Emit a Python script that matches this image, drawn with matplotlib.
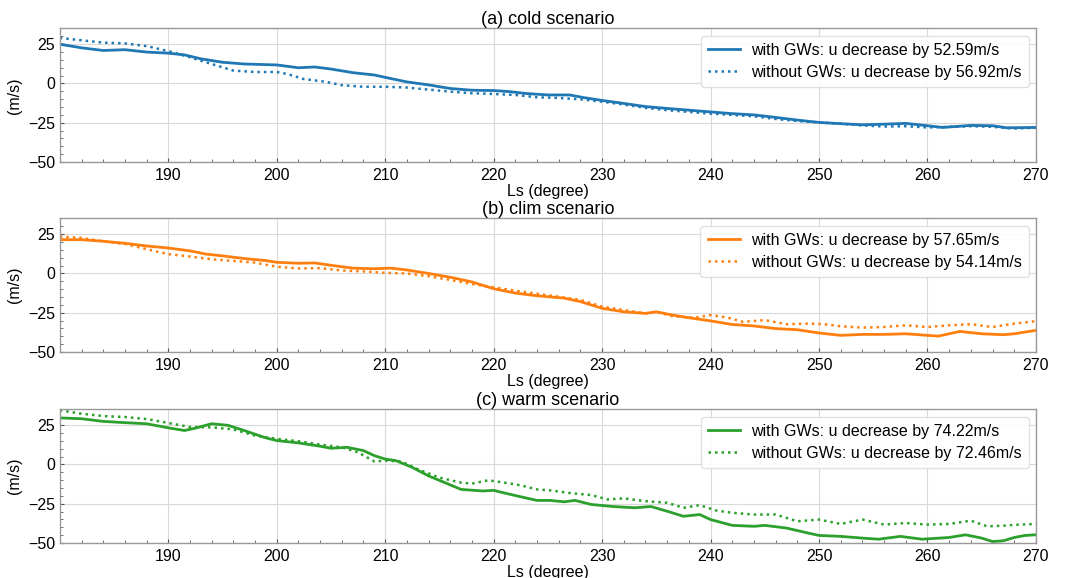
import matplotlib
matplotlib.use("Agg")
import matplotlib.pyplot as plt
from matplotlib.ticker import MultipleLocator

plt.rcParams['font.family'] = ['Liberation Sans', 'DejaVu Sans']

# ---------------- data ----------------
ls_cold_gw = [180, 182, 184, 186, 188, 190, 191.5, 193, 195, 197, 199, 200, 202, 203.5, 205, 207, 209, 210,
              212, 214, 216, 218, 220, 221.5, 223, 225, 227, 228.3, 230, 232, 234, 236, 238, 240, 242, 244,
              246, 248, 250, 252, 254, 256, 258, 260, 261.4, 264, 266, 267.3, 270]
u_cold_gw = [25.0, 22.7, 21.0, 21.5, 20.0, 19.3, 18.2, 15.7, 13.5, 12.4, 12.0, 11.8, 10.0, 10.5, 9.2, 6.9, 5.4, 3.9,
             1.0, -0.9, -3.2, -4.3, -4.5, -5.2, -6.4, -7.3, -7.3, -9.0, -10.8, -12.7, -14.7, -15.9, -17.0, -18.1,
             -19.2, -20.0, -21.6, -23.3, -24.8, -25.6, -26.3, -25.9, -25.4, -26.9, -28.0, -26.7, -26.9, -28.2, -28.0]
ls_cold_nogw = [180, 182, 184, 186, 188, 190, 192, 194, 196, 198, 200, 201, 202.5, 204.5, 206, 208, 210, 212,
                214, 216, 218, 220, 222, 224, 226, 228, 230, 232, 234, 236, 238, 240, 242, 244, 246, 248, 250,
                252, 254, 256, 258, 260, 262, 264, 266, 268, 270]
u_cold_nogw = [29.0, 27.5, 26.0, 25.5, 23.8, 20.6, 16.7, 12.4, 8.2, 7.3, 7.3, 6.0, 2.8, 1.1, -1.1, -2.1, -2.1,
               -2.6, -3.9, -5.2, -6.2, -6.7, -7.3, -8.8, -9.2, -10.1, -11.6, -13.4, -15.5, -17.0, -18.1, -19.2,
               -20.0, -20.9, -22.6, -23.9, -24.8, -25.6, -26.7, -27.4, -27.2, -28.0, -27.6, -27.2, -27.6, -28.7, -28.2]

ls_clim_gw = [180, 182, 184, 186, 188, 190, 192, 193.5, 195, 197, 199, 200, 202, 203.5, 205, 207, 209, 210.5,
              212, 214, 216, 218, 220, 222, 224, 226.5, 228, 230, 232, 234, 235, 236.5, 238, 240, 242, 244,
              246, 248, 250, 252, 254, 256, 258, 260, 261, 263, 265, 267, 268, 270]
u_clim_gw = [21.5, 21.5, 20.5, 19.2, 17.5, 16.2, 14.4, 12.3, 11.2, 9.5, 8.2, 7.1, 6.5, 6.7, 5.2, 3.4, 3.0, 3.4,
             2.2, 0.0, -2.4, -5.4, -9.7, -12.5, -14.2, -15.7, -17.9, -22.2, -24.4, -25.4, -24.4, -26.5, -28.2,
             -30.2, -32.5, -33.4, -35.1, -35.8, -37.9, -39.4, -38.8, -38.8, -38.4, -39.4, -39.9, -36.9, -38.4,
             -39.0, -38.4, -36.2]
ls_clim_nogw = [180, 182, 184, 186, 188, 190, 192, 194, 196, 198, 200, 202, 204, 206, 208, 210, 212, 214, 216,
                218, 220, 222, 224, 226, 228, 230, 232, 234, 235, 236.5, 238.5, 240, 241.5, 243, 245, 247, 249,
                250.5, 252, 254, 256, 258, 260, 262, 264, 266, 268, 270]
u_clim_nogw = [23.5, 22.6, 20.5, 18.8, 15.5, 12.3, 10.8, 9.0, 8.0, 6.9, 4.3, 3.2, 3.4, 1.9, 1.3, 0.4, 0.0, -1.7,
               -4.1, -6.7, -8.8, -11.0, -12.9, -14.8, -16.8, -21.1, -23.3, -25.4, -24.4, -27.2, -28.2, -26.5,
               -28.0, -30.8, -29.7, -32.3, -31.9, -32.3, -33.6, -34.5, -34.1, -33.0, -34.1, -33.0, -32.3, -34.1,
               -31.9, -30.4]

ls_warm_gw = [180, 182, 184, 186, 188, 190, 191.5, 192.5, 194, 195.5, 197, 199, 200, 202, 204, 205, 206.5, 208,
              209, 210, 211, 212.5, 214, 215.5, 217, 219, 220, 221, 222.5, 224, 225.2, 226.5, 227.5, 229, 231,
              233, 234.5, 236, 237.5, 239, 240, 242, 244, 245, 247, 249, 250, 252, 254, 255.5, 257.5, 259.5,
              262, 263.5, 265, 266, 267, 268, 269, 270]
u_warm_gw = [29.6, 29.1, 27.4, 26.6, 25.9, 23.3, 21.6, 23.1, 25.9, 24.9, 21.6, 16.9, 15.2, 13.7, 11.6, 10.3, 10.9,
             8.8, 5.6, 3.4, 2.4, -1.9, -7.3, -11.6, -15.9, -16.9, -16.5, -18.2, -20.6, -22.9, -22.9, -23.8,
             -22.9, -25.5, -26.8, -27.6, -26.8, -29.8, -33.0, -31.9, -35.1, -38.8, -39.4, -38.8, -40.5, -43.7,
             -45.2, -45.8, -46.9, -47.6, -45.8, -47.6, -46.5, -44.8, -46.9, -49.1, -48.6, -46.5, -45.2, -44.8]
ls_warm_nogw = [180, 182, 184, 186, 188, 190, 192, 194, 196, 198, 200, 202, 204, 206, 207.5, 209, 210, 211.5,
                213, 215, 217, 218, 219.5, 221, 222.5, 224, 225.2, 227, 229, 230.5, 232, 234, 236, 237.5, 239,
                240.5, 242, 244, 246, 248, 250, 252, 254, 256, 258, 260, 262, 264, 265.5, 267, 268.5, 270]
u_warm_nogw = [34.5, 32.3, 30.8, 30.2, 28.9, 26.4, 23.8, 23.6, 22.3, 18.4, 16.3, 14.8, 12.6, 10.9, 7.7, 1.9, 2.4,
               1.9, -3.0, -8.4, -11.6, -12.2, -10.1, -11.6, -13.3, -15.9, -16.5, -18.2, -19.5, -22.3, -21.6,
               -23.4, -24.4, -27.6, -25.9, -29.3, -30.8, -31.9, -31.9, -36.2, -35.1, -37.9, -35.1, -38.3, -37.3,
               -38.3, -37.9, -35.8, -39.4, -39.0, -38.3, -37.9]

titles = ["(a) cold scenario", "(b) clim scenario", "(c) warm scenario"]
labels_gw = ["with GWs: u decrease by 52.59m/s", "with GWs: u decrease by 57.65m/s",
             "with GWs: u decrease by 74.22m/s"]
labels_nogw = ["without GWs: u decrease by 56.92m/s", "without GWs: u decrease by 54.14m/s",
               "without GWs: u decrease by 72.46m/s"]
colors = ["#1f77b4", "#ff7f0e", "#2ca02c"]
xticks = [190, 200, 210, 220, 230, 240, 250, 260, 270]
yticks = [-50, -25, 0, 25]

series = [
    (ls_cold_gw, u_cold_gw, ls_cold_nogw, u_cold_nogw),
    (ls_clim_gw, u_clim_gw, ls_clim_nogw, u_clim_nogw),
    (ls_warm_gw, u_warm_gw, ls_warm_nogw, u_warm_nogw),
]

# ---------------- figure ----------------
fig = plt.figure(figsize=(10.68, 5.78), dpi=100)
left, width = 0.056, 0.914
bottoms = [0.7197, 0.391, 0.0606]
height = 0.231

for i in range(3):
    ax = fig.add_axes([left, bottoms[i], width, height])
    xg, yg, xn, yn = series[i]
    ax.plot(xg, yg, color=colors[i], lw=2.0, label=labels_gw[i])
    ax.plot(xn, yn, color=colors[i], lw=1.8, ls=(0, (1, 1.6)), label=labels_nogw[i])
    ax.set_xlim(180, 270)
    ax.set_ylim(-50, 35)
    ax.set_xticks(xticks)
    ax.set_yticks(yticks)
    ax.xaxis.set_minor_locator(MultipleLocator(2))
    ax.yaxis.set_minor_locator(MultipleLocator(5))
    ax.tick_params(which='both', direction='in', labelsize=11.5, colors='#555555', labelcolor='black')
    ax.tick_params(which='major', length=3)
    ax.tick_params(which='minor', length=2)
    ax.tick_params(axis='x', pad=4)
    ax.grid(True, which='major', color='#d9d9d9', lw=0.8)
    ax.set_axisbelow(True)
    for s in ax.spines.values():
        s.set_color('#999999')
        s.set_linewidth(1.0)
    ax.set_title(titles[i], fontsize=13, pad=3)
    ax.set_xlabel("Ls (degree)", fontsize=11.5, labelpad=1)
    ax.set_ylabel("(m/s)", fontsize=11.5, labelpad=4)
    ax.legend(loc='upper right', fontsize=11.5, frameon=True, framealpha=0.9,
              edgecolor='#dddddd', fancybox=True, handlelength=2.0, handletextpad=0.7,
              borderpad=0.45, labelspacing=0.45, borderaxespad=0.45)

fig.savefig("out.png", dpi=100)
